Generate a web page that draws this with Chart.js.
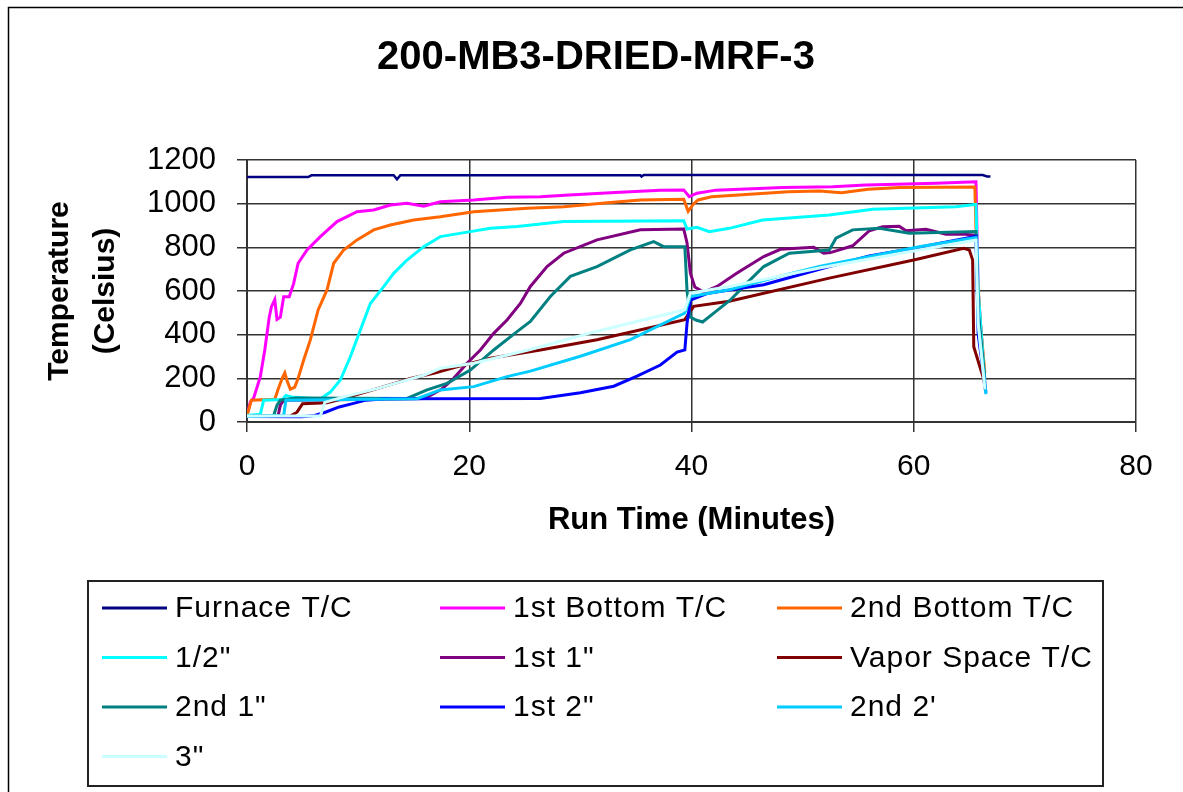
<!DOCTYPE html>
<html>
<head>
<meta charset="utf-8">
<title>200-MB3-DRIED-MRF-3</title>
<script src="https://cdn.jsdelivr.net/npm/chart.js@4.4.0/dist/chart.umd.min.js"></script>
<style>
  html, body { margin: 0; padding: 0; background: #fff; }
  #wrap { width: 1183px; height: 792px; }
</style>
</head>
<body>
<div id="wrap"><canvas id="chart" width="1183" height="792"></canvas></div>
<script>
// thermocouple readings: [run time (min), temperature (C)]
const furnaceTC = [[0,1122],[5.5,1122],[5.8,1130],[13.2,1130],[13.5,1112],[13.8,1130],[35.4,1130],[35.5,1124],[35.7,1131],[66.2,1131],[66.6,1125],[66.9,1125]];
const bottom1TC = [[0,30],[0.3,92],[0.6,110],[1.2,208],[1.6,330],[2.0,480],[2.2,528],[2.5,560],[2.7,470],[3.0,480],[3.3,574],[3.8,574],[4.2,635],[4.6,727],[5.4,788],[6.6,849],[8.1,918],[9.9,963],[11.4,971],[12.9,994],[14.4,1002],[15.9,988],[17.4,1009],[20.4,1017],[23.4,1029],[26.4,1032],[29,1040],[32.7,1050],[37.2,1062],[39.3,1063],[39.8,1032],[40.5,1048],[42.2,1062],[48.2,1074],[52.7,1077],[55.7,1086],[62,1094],[65.6,1100],[65.8,600],[66.4,180]];
const bottom2TC = [[0,30],[0.4,100],[2.5,104],[2.8,150],[3.2,205],[3.4,225],[3.6,190],[3.9,150],[4.3,160],[4.6,200],[5.1,284],[5.7,376],[6.4,513],[7.2,605],[7.8,727],[8.7,788],[9.9,834],[11.4,880],[12.9,902],[15.0,925],[17.4,940],[20.4,963],[25.2,979],[28.5,986],[32.7,1005],[35.4,1017],[39.3,1020],[39.7,965],[40.2,1000],[40.6,1017],[41.8,1032],[48.7,1055],[51.5,1058],[53.5,1050],[55.9,1066],[58.7,1074],[65.5,1076],[65.7,700],[66.0,450],[66.4,224]];
const halfInch = [[0,30],[1.2,35],[1.5,100],[3.2,103],[3.5,122],[4.0,115],[6.6,105],[7.5,137],[8.4,192],[9.3,299],[10.2,421],[11.1,543],[12.3,620],[13.2,681],[14.4,742],[15.9,803],[17.4,849],[20.1,872],[21.9,887],[24.3,895],[26.4,907],[28.5,918],[39.3,922],[39.6,884],[40.5,892],[41.6,872],[43.4,887],[46.4,925],[52.4,948],[56.3,974],[63.8,986],[65.6,997],[65.8,600],[66.4,180]];
const inch1First = [[0,25],[2.8,28],[3.0,77],[3.3,100],[12,104],[16,108],[17.5,150],[18.6,200],[19.8,269],[21,330],[22.2,406],[23.4,467],[24.6,543],[25.5,621],[27,712],[28.5,773],[31.5,834],[35.4,880],[39.3,884],[39.6,820],[39.9,682],[40.3,618],[41.1,595],[42.3,621],[44.1,682],[46.5,758],[48,791],[51,800],[51.9,773],[52.5,776],[54.5,807],[56,876],[57.2,894],[58.7,896],[59.3,876],[61.1,883],[62.9,860],[64.6,860],[65.6,855],[65.8,500],[66.4,150]];
const vaporTC = [[0,25],[3.9,27],[4.5,45],[5.0,84],[7.2,88],[8.7,107],[10.2,130],[11.7,153],[13.2,176],[14.7,199],[16.8,223],[18.9,253],[21.9,292],[26.4,330],[31.5,377],[39.4,469],[39.8,500],[40.2,530],[43.4,553],[52.4,659],[60,742],[64.5,796],[65.0,788],[65.3,742],[65.4,345],[66.4,178]];
const inch1Second = [[0,25],[2.4,30],[2.7,77],[3.0,100],[4.4,110],[14.4,108],[16.2,147],[18,177],[20.1,238],[22.2,330],[24.3,414],[25.5,461],[27.3,575],[29.1,667],[31.5,712],[34.5,788],[36.6,826],[37.5,803],[39.4,803],[39.6,600],[39.9,481],[40.4,467],[41,458],[42,499],[43.5,559],[45,637],[46.5,712],[48.8,773],[52.4,788],[53,842],[54.5,880],[56.9,887],[59.6,865],[65.6,872],[65.8,500],[66.4,195]];
const inch2First = [[0,25],[4.9,24],[6.1,30],[7.1,46],[8.3,69],[9.5,84],[10.7,100],[12.5,107],[26.4,108],[30,134],[33,164],[35.1,210],[37.2,261],[38.7,320],[39.4,330],[39.6,453],[39.9,558],[41.5,590],[46.5,629],[52.4,712],[56,760],[60.5,800],[65.6,850],[65.8,400],[66.5,134]];
const inch2Second = [[0,25],[3.3,30],[3.5,100],[15.3,107],[17.4,147],[20.4,162],[23.4,208],[25.5,233],[30,301],[34.5,377],[39.4,499],[39.9,575],[43.4,606],[47.9,667],[51.5,712],[57.5,773],[60.5,803],[65.6,845],[65.8,450],[66.5,127]];
const inch3 = [[0,28],[6.6,28],[7.0,90],[8.7,115],[11.7,153],[13.8,184],[15.9,214],[17.4,246],[20.4,269],[25.5,332],[31.5,416],[39.4,514],[39.9,590],[43.4,621],[51.5,705],[60.5,788],[65.6,833],[65.8,450],[66.4,150]];

const seriesNames = ['Furnace T/C', '1st Bottom T/C', '2nd Bottom T/C', '1/2"', '1st 1"', 'Vapor Space T/C', '2nd 1"', '1st 2"', "2nd 2'", '3"'];
const seriesData = [furnaceTC, bottom1TC, bottom2TC, halfInch, inch1First, vaporTC, inch1Second, inch2First, inch2Second, inch3];
const seriesColors = ['#000080', '#FF00FF', '#FF6600', '#00FFFF', '#800080', '#800000', '#008080', '#0000FF', '#00CCFF', '#CCFFFF'];

const FONT = 'Liberation Sans, Arial, sans-serif';

// white page, outer frame and the boxed 3-column legend
const framePlugin = {
  id: 'frame',
  beforeDraw(chart) {
    const ctx = chart.ctx;
    ctx.save();
    ctx.fillStyle = '#fff';
    ctx.fillRect(0, 0, chart.width, chart.height);
    ctx.strokeStyle = '#000';
    ctx.lineWidth = 1.5;
    ctx.beginPath();
    ctx.moveTo(8.5, chart.height);
    ctx.lineTo(8.5, 7.5);
    ctx.lineTo(chart.width, 7.5);
    ctx.stroke();
    ctx.restore();
  },
  afterDraw(chart) {
    const ctx = chart.ctx;
    ctx.save();
    ctx.strokeStyle = '#222';
    ctx.lineWidth = 2;
    ctx.strokeRect(88, 581, 1015, 205);
    ctx.font = '30px ' + FONT;
    ctx.letterSpacing = '1px';
    ctx.textBaseline = 'middle';
    ctx.fillStyle = '#000';
    const colX = [102, 440, 777];
    chart.data.datasets.forEach((ds, i) => {
      const x = colX[i % 3];
      const y = 608 + Math.floor(i / 3) * 49.5;
      ctx.strokeStyle = ds.borderColor;
      ctx.lineWidth = 3;
      ctx.beginPath();
      ctx.moveTo(x, y);
      ctx.lineTo(x + 65, y);
      ctx.stroke();
      ctx.fillText(ds.label, x + 73, y + 1);
    });
    ctx.restore();
  }
};

const datasets = seriesNames.map((name, i) => ({
  label: name,
  data: seriesData[i].map(([x, y]) => ({ x, y })),
  borderColor: seriesColors[i],
  backgroundColor: seriesColors[i],
  borderWidth: i === 0 ? 2.5 : 3,
  pointRadius: 0,
  tension: 0,
  order: seriesNames.length - i
}));

new Chart(document.getElementById('chart'), {
  type: 'line',
  data: { datasets },
  plugins: [framePlugin],
  options: {
    responsive: false,
    animation: false,
    layout: { padding: { left: 56, right: 47, top: 0, bottom: 246 } },
    plugins: {
      legend: { display: false },
      tooltip: { enabled: false },
      title: {
        display: true,
        text: '200-MB3-DRIED-MRF-3',
        color: '#000',
        font: { family: FONT, size: 40, weight: 'bold', lineHeight: 1.2 },
        padding: { top: 34, bottom: 78 }
      }
    },
    scales: {
      x: {
        type: 'linear',
        min: 0,
        max: 80,
        afterFit(scale) { scale.height = 124; },
        ticks: {
          stepSize: 20,
          color: '#000',
          padding: 17,
          font: { family: FONT, size: 30 },
          maxRotation: 0,
          callback: (v) => String(v)
        },
        grid: { color: '#333', lineWidth: 1.5, tickLength: 10, tickColor: '#333', tickWidth: 1.5 },
        border: { color: '#333', width: 2 },
        title: {
          display: true,
          text: 'Run Time (Minutes)',
          color: '#000',
          font: { family: FONT, size: 31, weight: 'bold', lineHeight: 1.2 },
          padding: { top: 0, bottom: 7 }
        }
      },
      y: {
        min: 0,
        max: 1200,
        afterFit(scale) { scale.width = 191; },
        ticks: {
          stepSize: 200,
          color: '#000',
          padding: 21,
          font: { family: FONT, size: 31 },
          callback: (v) => String(v)
        },
        grid: { color: '#333', lineWidth: 1.5, tickLength: 10, tickColor: '#333', tickWidth: 1.5 },
        border: { color: '#333', width: 2 },
        title: {
          display: true,
          text: ['Temperature', '(Celsius)'],
          color: '#000',
          font: { family: FONT, size: 30, weight: 'bold', lineHeight: 1.53 },
          padding: { top: -19, bottom: 0 }
        }
      }
    }
  }
});
</script>
</body>
</html>
